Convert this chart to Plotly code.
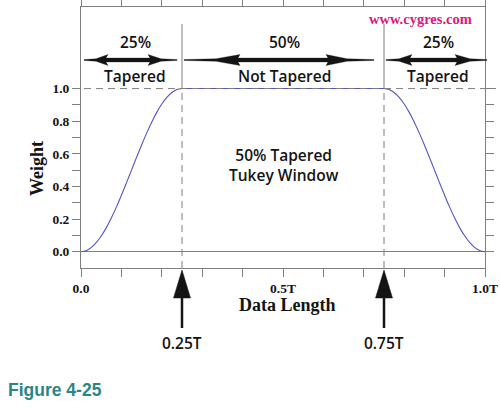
import plotly.graph_objects as go

# ---- data ----
taper_x = [0.0, 0.0125, 0.025, 0.0375, 0.05, 0.0625, 0.075, 0.0875, 0.1, 0.1125, 0.125,
           0.1375, 0.15, 0.1625, 0.175, 0.1875, 0.2, 0.2125, 0.225, 0.2375, 0.25]
taper_up = [0.0, 0.006, 0.025, 0.055, 0.096, 0.146, 0.206, 0.273, 0.346, 0.422, 0.5,
            0.578, 0.654, 0.727, 0.794, 0.854, 0.905, 0.946, 0.976, 0.994, 1.0]
flat_x = [0.25, 0.75]
flat_w = [1.0, 1.0]
taper_down_x = [0.75, 0.7625, 0.775, 0.7875, 0.8, 0.8125, 0.825, 0.8375, 0.85, 0.8625, 0.875,
                0.8875, 0.9, 0.9125, 0.925, 0.9375, 0.95, 0.9625, 0.975, 0.9875, 1.0]
taper_down = [1.0, 0.994, 0.976, 0.946, 0.905, 0.854, 0.794, 0.727, 0.654, 0.578, 0.5,
              0.422, 0.346, 0.273, 0.206, 0.146, 0.096, 0.055, 0.025, 0.006, 0.0]
split_points = [0.25, 0.75]
split_labels = ["0.25T", "0.75T"]
segments = [(0.0, 0.25), (0.25, 0.75), (0.75, 1.0)]
segment_pct = ["25%", "50%", "25%"]
segment_names = ["Tapered", "Not Tapered", "Tapered"]
x_tickvals = [0.0, 0.1, 0.2, 0.3, 0.4, 0.5, 0.6, 0.7, 0.8, 0.9, 1.0]
x_ticktext = ["0.0", "", "", "", "", "0.5T", "", "", "", "", "1.0T"]
y_tickvals = [0.0, 0.1, 0.2, 0.3, 0.4, 0.5, 0.6, 0.7, 0.8, 0.9, 1.0]
y_ticktext = ["0.0", "", "0.2", "", "0.4", "", "0.6", "", "0.8", "", "1.0"]
x_range = [0.0, 1.0]
y_range = [-0.1, 1.5]

# ---- geometry (pixels) ----
W, H = 500, 417
L, R, T, B = 81, 485, 7, 268


def px_x(p):
    return (p - L) / (R - L)


def px_y(p):
    return (B - p) / (B - T)


def dx_to_px(v):
    return L + (v - x_range[0]) / (x_range[1] - x_range[0]) * (R - L)


def dy_to_paper(v):
    return (v - y_range[0]) / (y_range[1] - y_range[0])


GRAY = "#7f7f7f"
INK = "#141414"
SANS = "Open Sans"
SERIF = "Liberation Serif"
CURVE = "#5454c4"

fig = go.Figure()
for xs, ys, shp in [(taper_x, taper_up, "spline"), (flat_x, flat_w, "linear"),
                    (taper_down_x, taper_down, "spline")]:
    fig.add_trace(go.Scatter(x=xs, y=ys, mode="lines",
                             line=dict(color=CURVE, width=1.1, shape=shp),
                             hoverinfo="skip", showlegend=False))

shapes = []
# dashed line at weight 1.0
shapes.append(dict(type="line", xref="paper", yref="paper",
                   x0=px_x(72), x1=px_x(496), y0=dy_to_paper(1.0), y1=dy_to_paper(1.0),
                   line=dict(color=GRAY, width=1, dash="7px,5px")))
for sp in split_points:
    xp = (sp - x_range[0]) / (x_range[1] - x_range[0])
    shapes.append(dict(type="line", xref="paper", yref="paper",
                       x0=xp, x1=xp, y0=dy_to_paper(1.0), y1=px_y(24),
                       line=dict(color=GRAY, width=1)))
    shapes.append(dict(type="line", xref="paper", yref="paper",
                       x0=xp, x1=xp, y0=0, y1=dy_to_paper(1.0),
                       line=dict(color=GRAY, width=1, dash="7px,5px")))
    cx = dx_to_px(sp)
    tri = "M {},{} L {},{} L {},{} Z".format(
        px_x(cx), px_y(270), px_x(cx - 8.5), px_y(298), px_x(cx + 8.5), px_y(298))
    shapes.append(dict(type="path", xref="paper", yref="paper", path=tri,
                       fillcolor=INK, line=dict(color=INK, width=0.5)))
    shapes.append(dict(type="line", xref="paper", yref="paper",
                       x0=px_x(cx), x1=px_x(cx), y0=px_y(296), y1=px_y(328),
                       line=dict(color=INK, width=2.5)))

# double arrows (pixel specs: end_l, tip_l, barb_l, barb_r, tip_r, end_r)
arrow_specs = [(84, 96, 108, 148, 161, 177),
               (184, 216, 240, 326, 347, 374),
               (386, 399, 412, 455, 470, 487)]
ay = 60
h, s, t1, t0 = 5.5, 2.0, 1.3, 0.4
for el, tl, bl, br, tr, er in arrow_specs:
    pts = [(el, ay - t0), (tl, ay - t1), (bl, ay - h), (bl - 2, ay - s),
           (br + 2, ay - s), (br, ay - h), (tr, ay - t1), (er, ay - t0),
           (er, ay + t0), (tr, ay + t1), (br, ay + h), (br + 2, ay + s),
           (bl - 2, ay + s), (bl, ay + h), (tl, ay + t1), (el, ay + t0)]
    path = "M " + " L ".join("{},{}".format(px_x(px), px_y(py)) for px, py in pts) + " Z"
    shapes.append(dict(type="path", xref="paper", yref="paper", path=path,
                       fillcolor=INK, line=dict(color=INK, width=0.3)))

annotations = []


def add_text(text, x, y, size, family, color=INK, weight="bold", angle=0):
    annotations.append(dict(text=text, xref="paper", yref="paper", x=px_x(x), y=px_y(y),
                            xanchor="center", yanchor="middle", showarrow=False,
                            textangle=angle,
                            font=dict(size=size, family=family, color=color, weight=weight)))


seg_text_x = [135, 284, 438]
for (a, b), pct, name, cx in zip(segments, segment_pct, segment_names, seg_text_x):
    add_text(pct, cx, 42, 15.5, SANS, weight=600)
    add_text(name, cx, 76, 15.5, SANS, weight=600)

for sp, lab in zip(split_points, split_labels):
    add_text(lab, dx_to_px(sp), 343, 15.5, SANS, weight=600)

add_text("50% Tapered<br>Tukey Window", 284, 165, 15.5, SANS, weight=600)
add_text("www.cygres.com", 420, 19, 14.5, SERIF, color="#e0187f")
add_text("Weight", 37, 169, 18, SERIF, angle=-90)
add_text("Data Length", 287, 305, 18, SERIF)
add_text("Figure 4-25", 55, 390, 17.5, "Liberation Sans", color="#2a8585")

axis_common = dict(showline=True, linecolor=GRAY, linewidth=1, mirror="ticks",
                   ticks="outside", ticklen=8, tickcolor=GRAY, tickwidth=1,
                   showgrid=False, tickmode="array", automargin=False,
                   tickfont=dict(family=SERIF, size=13.5, color=INK, weight="bold"))

fig.update_layout(
    width=W, height=H,
    margin=dict(l=L, r=W - R, t=T, b=H - B),
    paper_bgcolor="white", plot_bgcolor="white",
    xaxis=dict(range=x_range, tickvals=x_tickvals, ticktext=x_ticktext,
               zeroline=False, **axis_common),
    yaxis=dict(range=y_range, tickvals=y_tickvals, ticktext=y_ticktext,
               zeroline=True, zerolinecolor=GRAY, zerolinewidth=1, **axis_common),
    shapes=shapes,
    annotations=annotations,
    showlegend=False,
)

fig.write_html("out.html", config={"displayModeBar": False},
               post_script="document.body.style.margin='0';")
